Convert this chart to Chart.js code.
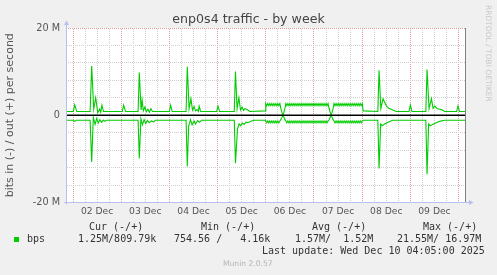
<!DOCTYPE html>
<html>
<head>
<meta charset="utf-8">
<title>enp0s4 traffic - by week</title>
<script src="https://cdn.jsdelivr.net/npm/chart.js@4.4.1/dist/chart.umd.min.js"></script>
<style>
  html, body { margin: 0; padding: 0; background: #f0f0f0; }
  #box { position: relative; width: 497px; height: 275px; overflow: hidden; background: #f0f0f0; }
  #graph { position: absolute; left: 0; top: 0; }
  .lg { position: absolute; font-family: "DejaVu Sans Mono", monospace; font-size: 10px; line-height: 12px; color: #333; white-space: pre; }
  .swatch { position: absolute; left: 14px; top: 237px; width: 5px; height: 5px; background: #00cc00; }
  #munin { position: absolute; left: 223px; top: 259px; font-family: "DejaVu Sans", sans-serif; font-size: 7.6px; line-height: 10px; color: #b4b4b4; white-space: pre; }
  #rrd { position: absolute; left: 484px; top: 5px; writing-mode: vertical-rl; font-family: "DejaVu Sans", sans-serif; font-size: 7.5px; line-height: 8px; color: #c8c8c8; white-space: pre; }
</style>
</head>
<body>
<div id="box">
  <canvas id="graph" width="497" height="275"></canvas>
  <div id="rrd">RRDTOOL / TOBI OETIKER</div>
  <div class="lg" style="left:89px;top:221px">Cur (-/+)</div>
  <div class="lg" style="left:201px;top:221px">Min (-/+)</div>
  <div class="lg" style="left:312px;top:221px">Avg (-/+)</div>
  <div class="lg" style="left:423px;top:221px">Max (-/+)</div>
  <div class="swatch"></div>
  <div class="lg" style="left:27px;top:233px">bps</div>
  <div class="lg" style="left:78px;top:233px">1.25M/809.79k</div>
  <div class="lg" style="left:174px;top:233px">754.56 /   4.16k</div>
  <div class="lg" style="left:295px;top:233px">1.57M/  1.52M</div>
  <div class="lg" style="left:397px;top:233px">21.55M/ 16.97M</div>
  <div class="lg" style="left:262px;top:245px">Last update: Wed Dec 10 04:05:00 2025</div>
  <div id="munin">Munin 2.0.57</div>
</div>
<script>
// hours counted from 01 Dec 00:00, values in Mbit/s
const timeSpan = [21, 219.7];

// out (+) side
const outHours = [
  21, 24.15, 24.85, 25.85, 32.5, 33.3, 34.3, 35.3, 36.3, 37.3, 37.8, 38.4, 39.2,
  48.5, 49.2, 50.2, 56.4, 57.0, 57.9, 58.4, 59.0, 59.8, 60.5, 61.3, 62.0, 62.8, 63.6,
  72.0, 72.6, 73.4, 80.3, 80.9, 81.8, 82.7, 83.5, 84.3, 85.0, 85.8, 86.4, 86.8, 87.6,
  95.5, 96.2, 97.0, 104.3, 104.9, 105.7, 106.6, 107.4, 108.2, 108.9, 109.6, 110.7, 112.0, 119.8,
  168.5, 175.8, 176.4, 177.3, 178.4, 179.2, 180.1, 181.2, 182.6, 185.0,
  191.3, 192.0, 192.8, 199.7, 200.3, 201.3, 202.5, 203.3, 204.1, 205.4, 207.4, 209.1,
  215.0, 215.7, 216.5, 219.7
];
const outMbit = [
  0.85, 0.85, 2.35, 0.85, 0.85, 11.3, 1.4, 4.0, 0.6, 1.4, 0.7, 2.3, 0.85,
  0.85, 2.3, 0.85, 0.85, 9.8, 1.2, 3.5, 1.0, 1.9, 0.8, 1.4, 0.7, 1.5, 0.85,
  0.85, 2.3, 0.85, 0.85, 11.1, 1.5, 3.8, 1.2, 2.0, 1.0, 1.3, 0.85, 2.1, 0.85,
  0.85, 2.1, 0.85, 0.85, 10.0, 1.5, 4.0, 1.2, 1.9, 1.1, 1.5, 1.3, 0.85, 1.0,
  1.0, 0.85, 10.3, 1.5, 3.8, 3.0, 2.1, 1.6, 1.3, 0.85,
  0.85, 2.35, 0.85, 0.85, 10.5, 1.5, 3.8, 1.6, 2.1, 1.5, 1.3, 0.85,
  0.85, 2.1, 0.85, 0.85
];

// in (-) side
const inHours = [
  21, 24.2, 24.85, 25.6, 32.5, 33.3, 34.1, 35.0, 35.8, 36.6, 37.4, 38.2, 39.2, 40.0, 40.6,
  56.4, 57.0, 57.8, 58.6, 59.4, 60.2, 61.0, 62.0, 63.0, 64.2, 65.0,
  80.3, 80.9, 81.6, 82.5, 83.3, 84.3, 85.0, 86.0, 87.0, 88.0,
  104.3, 104.9, 105.9, 106.7, 107.4, 108.3, 109.2, 110.2, 111.1, 112.9, 114.0, 119.8,
  168.5, 175.8, 176.4, 177.2, 177.9, 179.2, 180.9, 183.2,
  199.7, 200.3, 201.1, 201.8, 204.1, 206.6, 209.1, 219.7
];
const inMbit = [
  -1.14, -1.14, -1.4, -1.14, -1.14, -10.7, -0.5, -2.1, -0.7, -1.8, -1.0, -1.6, -1.1, -1.4, -1.14,
  -1.14, -9.9, -0.8, -2.2, -1.0, -1.9, -1.2, -1.7, -1.3, -1.5, -1.14,
  -1.14, -11.7, -2.4, -1.0, -2.2, -1.3, -2.0, -1.2, -1.6, -1.14,
  -1.14, -11.0, -3.2, -2.0, -2.4, -1.8, -2.1, -1.6, -1.7, -1.3, -1.14, -1.14,
  -1.14, -1.14, -12.2, -2.0, -2.4, -2.0, -1.6, -1.14,
  -1.14, -13.5, -2.0, -2.4, -1.9, -1.4, -1.14, -1.14
];

// 06-07 Dec plateau, one reading every half hour from 06 Dec 00:00
const plateauStart = 120;
const plateauStep = 0.5;
const outPlateau = [
  2.7, 2.2, 2.7, 2.2, 2.7, 2.2, 2.7, 2.2, 2.7, 2.2,
  2.7, 2.2, 2.7, 2.2, 2.7, 1.5, 0.7, 0.1, 0.6, 1.5,
  2.7, 2.2, 2.7, 2.2, 2.7, 2.2, 2.7, 2.2, 2.7, 2.2,
  2.7, 2.2, 2.7, 2.2, 2.7, 2.2, 2.7, 2.2, 2.7, 2.2,
  2.7, 2.2, 2.7, 2.2, 2.7, 2.2, 2.7, 2.2, 2.7, 2.2,
  2.7, 2.2, 2.7, 2.2, 2.7, 2.2, 2.7, 2.2, 2.7, 2.2,
  2.7, 2.2, 2.7, 1.6, 0.8, 0.1, 0.6, 1.5, 2.7, 2.2,
  2.7, 2.2, 2.7, 2.2, 2.7, 2.2, 2.7, 2.2, 2.7, 2.2,
  2.7, 2.2, 2.7, 2.2, 2.7, 2.2, 2.7, 2.2, 2.7, 2.2,
  2.7, 2.2, 2.7, 2.2, 2.7, 2.2, 2.7
];
const inPlateau = [
  -1.3, -1.75, -1.3, -1.75, -1.3, -1.75, -1.3, -1.75, -1.3, -1.75,
  -1.3, -1.75, -1.3, -1.75, -1.3, -1.0, -0.5, -0.1, -0.4, -1.0,
  -1.3, -1.75, -1.3, -1.75, -1.3, -1.75, -1.3, -1.75, -1.3, -1.75,
  -1.3, -1.75, -1.3, -1.75, -1.3, -1.75, -1.3, -1.75, -1.3, -1.75,
  -1.3, -1.75, -1.3, -1.75, -1.3, -1.75, -1.3, -1.75, -1.3, -1.75,
  -1.3, -1.75, -1.3, -1.75, -1.3, -1.75, -1.3, -1.75, -1.3, -1.75,
  -1.3, -1.75, -1.3, -1.1, -0.5, -0.1, -0.4, -1.0, -1.3, -1.75,
  -1.3, -1.75, -1.3, -1.75, -1.3, -1.75, -1.3, -1.75, -1.3, -1.75,
  -1.3, -1.75, -1.3, -1.75, -1.3, -1.75, -1.3, -1.75, -1.3, -1.75,
  -1.3, -1.75, -1.3, -1.75, -1.3, -1.75, -1.3
];

const dayLabels = ['02 Dec', '03 Dec', '04 Dec', '05 Dec', '06 Dec', '07 Dec', '08 Dec', '09 Dec'];
const yTickLabels = { '-20': '-20 M', '-10': '-10 M', '0': '0', '10': '10 M', '20': '20 M' };

// grid every 6 hours, every 2 M
const gridHours = [];
for (let h = 24; h <= 216; h += 6) gridHours.push(h);
const gridMbit = [];
for (let v = -20; v <= 20; v += 2) gridMbit.push(v);

function points(hours, vals, pVals) {
  const pts = hours.map((h, i) => ({ x: h, y: vals[i] }));
  pVals.forEach((v, i) => pts.push({ x: plateauStart + i * plateauStep, y: v }));
  return pts.sort((a, b) => a.x - b.x);
}

const canvas = document.getElementById('graph');
const ctx2d = canvas.getContext('2d');

// 2x2 checker used as stroke style, gives crisp 1-on 1-off dotted grid lines
function dotted(color) {
  const c = document.createElement('canvas');
  c.width = 2;
  c.height = 2;
  const g = c.getContext('2d');
  g.fillStyle = color;
  g.fillRect(0, 0, 1, 1);
  g.fillRect(1, 1, 1, 1);
  return ctx2d.createPattern(c, 'repeat');
}
const minorGrid = dotted('#cfcfcf');
const majorGrid = dotted('#e39c9c');

const AXIS_BLUE = '#b8c0f0';

const decor = {
  id: 'decor',
  beforeDraw(chart) {
    const { ctx, chartArea: a } = chart;
    ctx.save();
    ctx.fillStyle = '#f0f0f0';
    ctx.fillRect(0, 0, chart.width, chart.height);
    ctx.fillStyle = '#ffffff';
    ctx.fillRect(a.left, a.top, a.right - a.left, a.bottom - a.top);
    ctx.restore();
  },
  afterDraw(chart) {
    const { ctx, chartArea: a } = chart;
    ctx.save();
    // right edge
    ctx.strokeStyle = '#808080';
    ctx.lineWidth = 1;
    ctx.beginPath();
    ctx.moveTo(a.right - 0.5, a.top);
    ctx.lineTo(a.right - 0.5, a.bottom);
    ctx.stroke();
    // axes with arrows
    ctx.strokeStyle = AXIS_BLUE;
    ctx.fillStyle = AXIS_BLUE;
    ctx.beginPath();
    ctx.moveTo(a.left - 0.5, a.bottom + 2);
    ctx.lineTo(a.left - 0.5, a.top - 4);
    ctx.moveTo(a.left - 3, a.bottom);
    ctx.lineTo(a.right + 4, a.bottom);
    ctx.stroke();
    ctx.beginPath();
    ctx.moveTo(a.left - 3, a.top - 3);
    ctx.lineTo(a.left + 2, a.top - 3);
    ctx.lineTo(a.left - 0.5, a.top - 7.5);
    ctx.closePath();
    ctx.fill();
    ctx.beginPath();
    ctx.moveTo(a.right + 3, a.bottom - 2.5);
    ctx.lineTo(a.right + 3, a.bottom + 2.5);
    ctx.lineTo(a.right + 7.5, a.bottom);
    ctx.closePath();
    ctx.fill();
    ctx.restore();
  }
};

new Chart(canvas, {
  type: 'line',
  data: {
    datasets: [
      {
        label: 'zero',
        data: [{ x: timeSpan[0], y: 0 }, { x: timeSpan[1], y: 0 }],
        borderColor: '#000000',
        borderWidth: 1.3
      },
      {
        label: 'out',
        data: points(outHours, outMbit, outPlateau),
        borderColor: '#00cc00',
        borderWidth: 1.1
      },
      {
        label: 'in',
        data: points(inHours, inMbit, inPlateau),
        borderColor: '#00cc00',
        borderWidth: 1.1
      }
    ]
  },
  options: {
    responsive: false,
    animation: false,
    devicePixelRatio: 1,
    elements: { point: { radius: 0 }, line: { tension: 0 } },
    layout: { padding: { left: 0, right: 0, top: 0, bottom: 52.5 } },
    plugins: {
      legend: { display: false },
      tooltip: { enabled: false },
      title: {
        display: true,
        text: 'enp0s4 traffic - by week',
        color: '#444',
        font: { family: 'DejaVu Sans', size: 12.6, weight: 'normal', lineHeight: '15px' },
        padding: { top: 12.5, bottom: 0.5 }
      }
    },
    scales: {
      x: {
        type: 'linear',
        min: timeSpan[0],
        max: timeSpan[1],
        afterFit(s) { s.height = 20; },
        afterBuildTicks(s) { s.ticks = gridHours.map(v => ({ value: v })); },
        ticks: {
          autoSkip: false,
          maxRotation: 0,
          padding: 3.5,
          color: '#555',
          font: { family: 'DejaVu Sans', size: 9.2 },
          callback(v) {
            const i = (v - 36) / 24;
            return Number.isInteger(i) && dayLabels[i] ? dayLabels[i] : '';
          }
        },
        grid: {
          drawTicks: false,
          lineWidth: 1,
          color: c => (c.tick && c.tick.value % 24 === 0 ? majorGrid : minorGrid)
        },
        border: { display: false }
      },
      y: {
        min: -20,
        max: 20,
        afterFit(s) { s.width = 67; },
        afterBuildTicks(s) { s.ticks = gridMbit.map(v => ({ value: v })); },
        ticks: {
          padding: 7,
          color: '#555',
          font: { family: 'DejaVu Sans', size: 9.7 },
          callback(v) { return yTickLabels[String(v)] || ''; }
        },
        title: {
          display: true,
          text: 'bits in (-) / out (+) per second',
          color: '#555',
          font: { family: 'DejaVu Sans', size: 11 },
          padding: { top: 4, bottom: 0 }
        },
        grid: {
          drawTicks: false,
          lineWidth: 1,
          color: c => (c.tick && c.tick.value % 10 === 0 ? majorGrid : minorGrid)
        },
        border: { display: false }
      },
      // empty right margin, keeps the title centred on the whole image
      yRight: {
        position: 'right',
        min: -20,
        max: 20,
        afterFit(s) { s.width = 31; },
        ticks: { display: false },
        grid: { drawOnChartArea: false, drawTicks: false },
        border: { display: false }
      }
    }
  },
  plugins: [decor]
});
</script>
</body>
</html>
